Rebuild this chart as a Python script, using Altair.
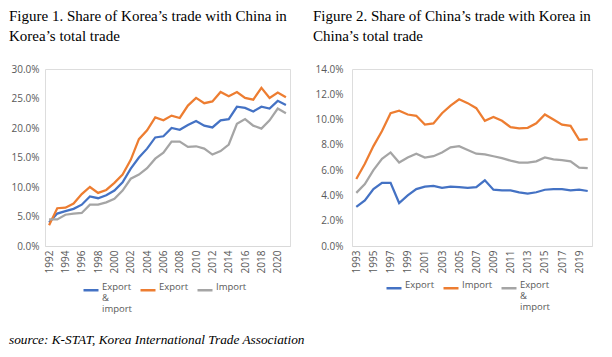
import altair as alt
import pandas as pd

# ---- Figure 1: Korea's trade with China, share of Korea's total trade (%)
years_k = list(range(1992, 2022))
k_total = [4.0, 5.5, 5.9, 6.3, 7.0, 8.4, 8.1, 8.6, 9.4, 10.8,
           13.1, 15.0, 16.5, 18.4, 18.6, 20.0, 19.7, 20.5, 21.2, 20.4,
           20.1, 21.3, 21.5, 23.6, 23.4, 22.8, 23.6, 23.3, 24.6, 23.9]
k_export = [3.5, 6.4, 6.5, 7.2, 8.8, 10.0, 9.0, 9.5, 10.7, 12.1,
            14.6, 18.1, 19.6, 21.8, 21.3, 22.1, 21.7, 23.8, 25.1, 24.2,
            24.5, 26.1, 25.4, 26.1, 25.1, 24.8, 26.8, 25.1, 26.0, 25.2]
k_import = [4.5, 4.5, 5.3, 5.5, 5.6, 7.0, 7.0, 7.4, 8.0, 9.4,
            11.4, 12.1, 13.2, 14.8, 15.8, 17.7, 17.7, 16.8, 16.9, 16.5,
            15.5, 16.1, 17.2, 20.7, 21.5, 20.4, 19.9, 21.3, 23.3, 22.5]

# ---- Figure 2: China's trade with Korea, share of China's total trade (%)
years_c = list(range(1993, 2021))
c_export = [3.1, 3.6, 4.5, 5.0, 5.0, 3.4, 4.0, 4.5, 4.7, 4.75,
            4.6, 4.7, 4.65, 4.6, 4.65, 5.2, 4.45, 4.4, 4.4, 4.25,
            4.15, 4.25, 4.45, 4.5, 4.5, 4.4, 4.45, 4.35]
c_import = [5.3, 6.5, 7.9, 9.1, 10.5, 10.7, 10.4, 10.3, 9.6, 9.7,
            10.5, 11.1, 11.6, 11.3, 10.9, 9.9, 10.2, 9.9, 9.4, 9.3,
            9.35, 9.7, 10.4, 10.0, 9.6, 9.5, 8.4, 8.45]
c_total = [4.2, 4.9, 6.0, 6.9, 7.4, 6.6, 7.0, 7.3, 7.0, 7.1,
           7.4, 7.8, 7.9, 7.6, 7.3, 7.25, 7.1, 6.95, 6.75, 6.6,
           6.6, 6.7, 7.0, 6.85, 6.8, 6.7, 6.2, 6.15]

left_ticks = list(range(1992, 2021, 2))
right_ticks = list(range(1993, 2020, 2))
left_y_ticks = [0, 5, 10, 15, 20, 25, 30]
right_y_ticks = [0, 2, 4, 6, 8, 10, 12, 14]

left_series = ["Export & import", "Export", "Import"]
right_series = ["Export", "Import", "Export & import"]
palette = ["#4472C4", "#ED7D31", "#A5A5A5"]

title1 = ["Figure 1. Share of Korea\u2019s trade with China in", "Korea\u2019s total trade"]
title2 = ["Figure 2. Share of China\u2019s trade with Korea in", "China\u2019s total trade"]
source = "source: K-STAT, Korea International Trade Association"

left_df = pd.concat([
    pd.DataFrame({"year": years_k, "value": vals, "series": name, "order": i})
    for i, (name, vals) in enumerate(zip(left_series, [k_total, k_export, k_import]))
])
right_df = pd.concat([
    pd.DataFrame({"year": years_c, "value": vals, "series": name, "order": i})
    for i, (name, vals) in enumerate(zip(right_series, [c_export, c_import, c_total]))
])

SANS = "Open Sans"
SERIF = "Liberation Serif"
GREY = "#595959"
label_expr = ("datum.label == 'Export & import' ? ['Export', '&', 'import'] "
              ": [datum.label, ' ', ' ']")


def panel(df, series, xdomain, xticks, ydomain, yticks, title, dx, legend_x, legend_y,
          w, ypad):
    return alt.Chart(df).mark_line(strokeWidth=2.25).encode(
        x=alt.X("year:Q", scale=alt.Scale(domain=xdomain, nice=False, zero=False),
                axis=alt.Axis(values=xticks, format="d", labelAngle=-90, title=None,
                              grid=False, ticks=False, domainColor="#D9D9D9",
                              labelColor=GREY, labelFont=SANS, labelFontSize=10,
                              labelPadding=4)),
        y=alt.Y("value:Q", scale=alt.Scale(domain=ydomain, nice=False),
                axis=alt.Axis(values=yticks, labelExpr="format(datum.value, '.1f') + '%'",
                              title=None, grid=False, ticks=False, domain=False,
                              labelColor=GREY, labelFont=SANS, labelFontSize=10,
                              labelPadding=ypad)),
        color=alt.Color("series:N", sort=series,
                        scale=alt.Scale(domain=series, range=palette),
                        legend=alt.Legend(title=None, orient="none", legendX=legend_x,
                                          legendY=legend_y, direction="horizontal",
                                          symbolType="stroke", symbolStrokeWidth=2.5,
                                          symbolSize=225, labelExpr=label_expr,
                                          labelFont=SANS, labelFontSize=9.5,
                                          labelColor=GREY, labelBaseline="alphabetic",
                                          labelOffset=2, columnPadding=3)),
        order=alt.Order("order:Q"),
    ).properties(
        width=w, height=177,
        title=alt.TitleParams(text=title, anchor="start", frame="group", dx=dx,
                              font=SERIF, fontSize=15, fontWeight="normal",
                              color="black", lineHeight=20, offset=20),
    )


left = panel(left_df, left_series, [1991.5, 2021.5], left_ticks, [0, 30], left_y_ticks,
             title1, -36, 37, 212, 245, 6)
right = panel(right_df, right_series, [1992.5, 2020.5], right_ticks, [0, 14], right_y_ticks,
              title2, -39, 33, 210, 240, 9)

chart = alt.hconcat(left, right, spacing=62, bounds="flush").resolve_scale(
    color="independent", x="independent", y="independent"
).properties(
    title=alt.TitleParams(text=source, orient="bottom", anchor="start", frame="group",
                          dx=-36, offset=18, font=SERIF, fontStyle="italic",
                          fontSize=13.3, fontWeight="normal", color="black"),
    padding={"left": 0, "top": 0, "right": 0, "bottom": 0},
).configure_view(stroke=None).configure(
    background="white",
    style={"guide-label": {"lineHeight": 11}},
)

chart.save("out.html", embed_options={"renderer": "svg", "actions": False})
